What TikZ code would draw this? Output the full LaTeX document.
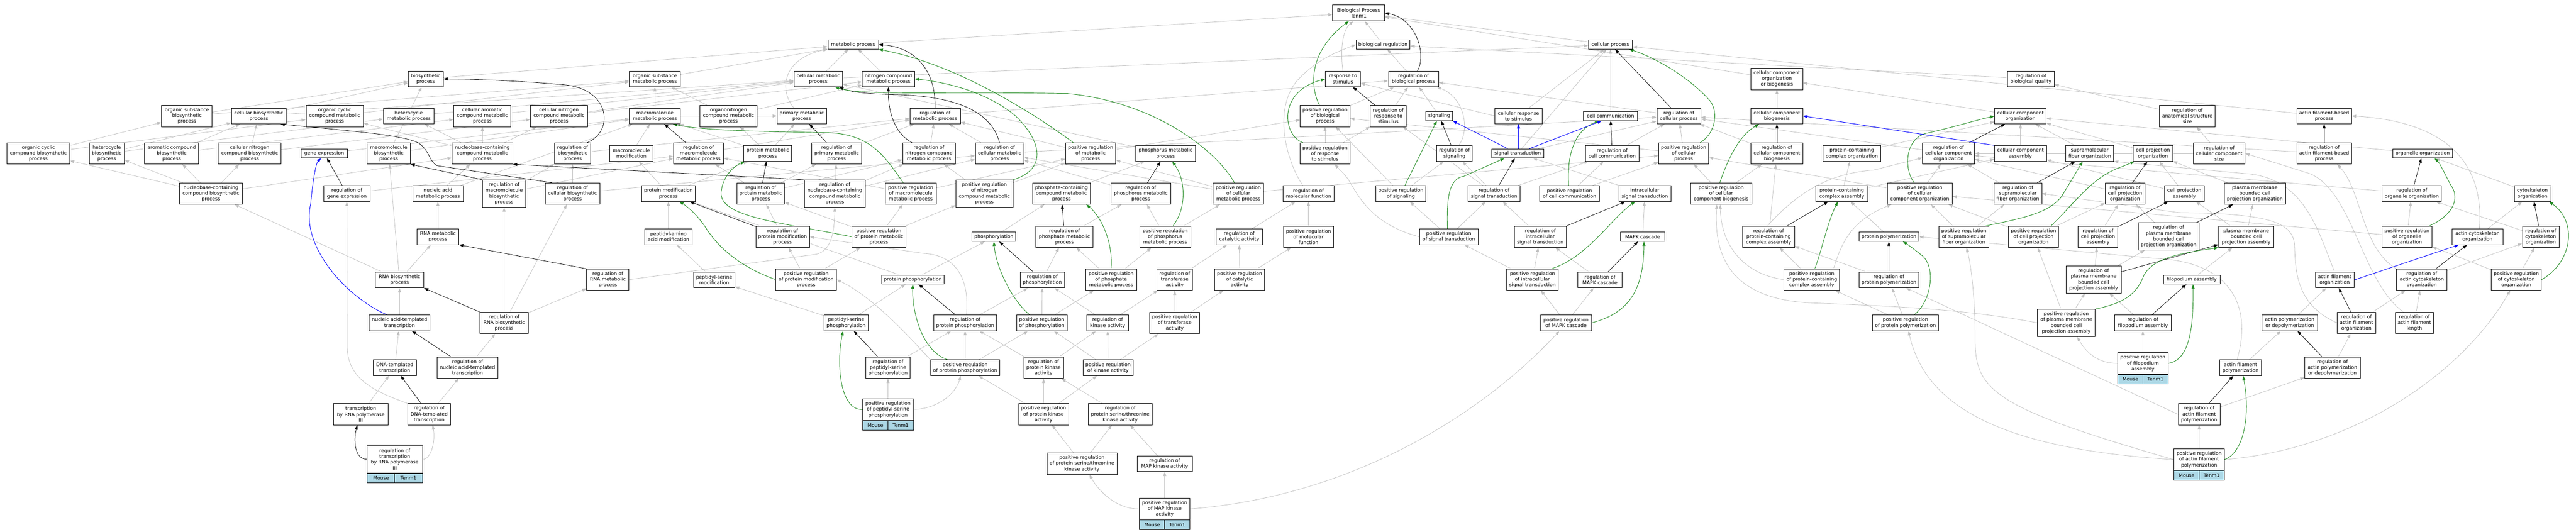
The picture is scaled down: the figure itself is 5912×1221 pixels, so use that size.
\documentclass[tikz,border=0pt]{standalone}
\usepackage{fontspec}
\newfontfamily\dejavu{DejaVu Sans}
\usetikzlibrary{arrows.meta,calc,backgrounds}
\definecolor{isagray}{RGB}{192,192,192}
\definecolor{pgreen}{RGB}{34,139,34}
\definecolor{pblue}{RGB}{0,0,255}
\definecolor{annot}{RGB}{173,216,230}
\newcommand\gf{\dejavu\fontsize{11.1pt}{13.2pt}\selectfont}
\tikzset{
 box/.style={draw=black, line width=0.9pt, fill=white, align=center, inner xsep=2pt, inner ysep=0pt, font=\gf},
 h1/.style={minimum height=21pt}, h2/.style={minimum height=36pt},
 h3/.style={minimum height=49pt}, h4/.style={minimum height=62.5pt},
 cell/.style={draw=black, line width=0.9pt, fill=annot, minimum height=22pt, inner sep=0pt, font=\gf},
 edge/.style={line width=0.9pt, -{Triangle[length=10pt,width=7pt]}},
 isa/.style={edge, draw=isagray},
 rg/.style={edge, draw=black},
 pr/.style={edge, draw=pgreen, line width=1.1pt},
 po/.style={edge, draw=pblue, line width=1.1pt},
}
\newcommand\N[6]{\node[box,#5,minimum width=#4pt] (#1) at (#2,#3) {#6};}
\newcommand\annot[1]{%
  \path let \p1=(#1.south west), \p2=(#1.south east), \n1={(\x2-\x1)/2} in
    node[cell, anchor=north west, minimum width=\n1] (#1m) at (\p1) {Mouse}
    node[cell, anchor=north east, minimum width=\n1] (#1g) at (\p2) {Tenm1};}
\newcommand\isa[2]{\draw[isa] (#1) -- (#2);}
\newcommand\rg[2]{\draw[rg] (#1) -- (#2);}
\newcommand\pr[2]{\draw[pr] (#1) -- (#2);}
\newcommand\po[2]{\draw[po] (#1) -- (#2);}
\begin{document}
\begin{tikzpicture}[x=1pt,y=-0.781pt]
\useasboundingbox (0pt,0pt) rectangle (5912pt,-1221pt);
% row 0-2
\N{BP}{3118}{38}{119}{h2}{Biological Process\\Tenm1}
\N{metab}{1958}{131}{116}{h1}{metabolic process}
\N{bioreg}{3174}{131}{124}{h1}{biological regulation}
\N{cellproc}{3696}{131}{101}{h1}{cellular process}
\N{biosyn}{977}{232}{80}{h2}{biosynthetic\\process}
\N{orgsubmet}{1503}{232}{117}{h2}{organic substance\\metabolic process}
\N{cellmet}{1878}{232}{111}{h2}{cellular metabolic\\process}
\N{nitmet}{2039}{232}{120}{h2}{nitrogen compound\\metabolic process}
\N{resp}{3082}{232}{80}{h2}{response to\\stimulus}
\N{regbp}{3244}{232}{115}{h2}{regulation of\\biological process}
\N{ccob}{4078}{232}{119}{h3}{cellular component\\organization\\or biogenesis}
\N{regqual}{4661}{232}{107}{h2}{regulation of\\biological quality}
% row 3
\N{orgsubbio}{429}{341}{116}{h3}{organic substance\\biosynthetic\\process}
\N{cellbio}{594}{341}{126}{h2}{cellular biosynthetic\\process}
\N{occmet}{768}{341}{131}{h3}{organic cyclic\\compound metabolic\\process}
\N{hetmet}{938}{341}{116}{h2}{heterocycle\\metabolic process}
\N{caromet}{1107}{341}{131}{h3}{cellular aromatic\\compound metabolic\\process}
\N{cnitmet}{1283}{341}{131}{h3}{cellular nitrogen\\compound metabolic\\process}
\N{macmet}{1503}{341}{117}{h2}{macromolecule\\metabolic process}
\N{orgnmet}{1672}{341}{131}{h3}{organonitrogen\\compound metabolic\\process}
\N{primet}{1840}{341}{113}{h2}{primary metabolic\\process}
\N{regmet}{2146}{341}{116}{h2}{regulation of\\metabolic process}
\N{posbp}{3041}{341}{114}{h3}{positive regulation\\of biological\\process}
\N{regresp}{3186}{341}{82}{h3}{regulation of\\response to\\stimulus}
\N{signaling}{3303}{341}{61}{h1}{signaling}
\N{cellresp}{3485}{341}{108}{h2}{cellular response\\to stimulus}
\N{cellcomm}{3696}{341}{123}{h1}{cell communication}
\N{regcp}{3853}{341}{101}{h2}{regulation of\\cellular process}
\N{ccbio}{4078}{341}{119}{h2}{cellular component\\biogenesis}
\N{cco}{4637}{341}{118}{h2}{cellular component\\organization}
\N{regsize}{5020}{341}{128}{h3}{regulation of\\anatomical structure\\size}
\N{afbp}{5334}{341}{126}{h2}{actin filament-based\\process}
% row 4
\N{occbio}{88}{451}{144}{h3}{organic cyclic\\compound biosynthetic\\process}
\N{hetbio}{245}{451}{81}{h3}{heterocycle\\biosynthetic\\process}
\N{arobio}{394}{451}{124}{h3}{aromatic compound\\biosynthetic\\process}
\N{cnitbio}{573}{451}{144}{h3}{cellular nitrogen\\compound biosynthetic\\process}
\N{geneexp}{744}{451}{106}{h1}{gene expression}
\N{macbio}{892}{451}{99}{h3}{macromolecule\\biosynthetic\\process}
\N{nucmet}{1107}{451}{139}{h3}{nucleobase-containing\\compound metabolic\\process}
\N{regbio}{1314}{451}{82}{h3}{regulation of\\biosynthetic\\process}
\N{macmod}{1449}{451}{100}{h2}{macromolecule\\modification}
\N{regmacmet}{1603}{451}{115}{h3}{regulation of\\macromolecule\\metabolic process}
\N{protmet}{1762}{451}{110}{h2}{protein metabolic\\process}
\N{regprimet}{1920}{451}{114}{h3}{regulation of\\primary metabolic\\process}
\N{regnitmet}{2132}{451}{121}{h3}{regulation of\\nitrogen compound\\metabolic process}
\N{regcellmet}{2294}{451}{111}{h3}{regulation of\\cellular metabolic\\process}
\N{posmet}{2503}{451}{115}{h3}{positive regulation\\of metabolic\\process}
\N{phosmet}{2675}{451}{137}{h2}{phosphorus metabolic\\process}
\N{posresp}{3041}{451}{114}{h3}{positive regulation\\of response\\to stimulus}
\N{regsig}{3338}{451}{82}{h2}{regulation of\\signaling}
\N{sigtrans}{3483}{451}{120}{h1}{signal transduction}
\N{regcomm}{3700}{451}{123}{h2}{regulation of\\cell communication}
\N{poscp}{3864}{451}{115}{h3}{positive regulation\\of cellular\\process}
\N{regccbio}{4078}{451}{119}{h3}{regulation of\\cellular component\\biogenesis}
\N{pcco}{4250}{451}{133}{h2}{protein-containing\\complex organization}
\N{regcco}{4472}{451}{119}{h3}{regulation of\\cellular component\\organization}
\N{ccasm}{4637}{451}{119}{h2}{cellular component\\assembly}
\N{sfo}{4796}{451}{110}{h2}{supramolecular\\fiber organization}
\N{cpo}{4941}{451}{91}{h2}{cell projection\\organization}
\N{regccsize}{5093}{451}{119}{h3}{regulation of\\cellular component\\size}
\N{regafbp}{5334}{451}{126}{h3}{regulation of\\actin filament-based\\process}
\N{orgorg}{5560}{451}{137}{h1}{organelle organization}
% row 5
\N{nucbio}{484}{569}{144}{h3}{nucleobase-containing\\compound biosynthetic\\process}
\N{reggene}{796}{569}{106}{h2}{regulation of\\gene expression}
\N{nucacmet}{1005}{569}{116}{h2}{nucleic acid\\metabolic process}
\N{regmacbio}{1157}{569}{99}{h4}{regulation of\\macromolecule\\biosynthetic\\process}
\N{regcellbio}{1314}{569}{126}{h3}{regulation of\\cellular biosynthetic\\process}
\N{protmod}{1534}{569}{123}{h2}{protein modification\\process}
\N{regprotmet}{1746}{569}{109}{h3}{regulation of\\protein metabolic\\process}
\N{regnucmet}{1916}{569}{139}{h4}{regulation of\\nucleobase-containing\\compound metabolic\\process}
\N{posmacmet}{2090}{569}{117}{h3}{positive regulation\\of macromolecule\\metabolic process}
\N{posnitmet}{2259}{569}{131}{h4}{positive regulation\\of nitrogen\\compound metabolic\\process}
\N{phosphmet}{2436}{569}{133}{h3}{phosphate-containing\\compound metabolic\\process}
\N{regphosmet}{2618}{569}{137}{h3}{regulation of\\phosphorus metabolic\\process}
\N{poscellmet}{2842}{569}{116}{h3}{positive regulation\\of cellular\\metabolic process}
\N{regmf}{3003}{569}{117}{h2}{regulation of\\molecular function}
\N{possig}{3215}{569}{115}{h2}{positive regulation\\of signaling}
\N{regsigtrans}{3429}{569}{119}{h2}{regulation of\\signal transduction}
\N{poscomm}{3602}{569}{137}{h2}{positive regulation\\of cell communication}
\N{intra}{3775}{569}{119}{h2}{intracellular\\signal transduction}
\N{posccbio}{3950}{569}{140}{h3}{positive regulation\\of cellular\\component biogenesis}
\N{pcca}{4227}{569}{119}{h2}{protein-containing\\complex assembly}
\N{posccorg}{4406}{569}{148}{h3}{positive regulation\\of cellular\\component organization}
\N{regsfo}{4631}{569}{110}{h3}{regulation of\\supramolecular\\fiber organization}
\N{regcpo}{4877}{569}{91}{h3}{regulation of\\cell projection\\organization}
\N{cpa}{5013}{569}{91}{h2}{cell projection\\assembly}
\N{pmcpo}{5175}{569}{140}{h3}{plasma membrane\\bounded cell\\projection organization}
\N{regorg}{5535}{569}{136}{h2}{regulation of\\organelle organization}
\N{cytorg}{5812}{569}{84}{h2}{cytoskeleton\\organization}
% row 6
\N{rnamet}{1005}{696}{96}{h2}{RNA metabolic\\process}
\N{pepmod}{1534}{696}{108}{h2}{peptidyl-amino\\acid modification}
\N{regprotmod}{1796}{696}{123}{h3}{regulation of\\protein modification\\process}
\N{posprotmet}{2017}{696}{125}{h3}{positive regulation\\of protein metabolic\\process}
\N{phos}{2281}{696}{101}{h1}{phosphorylation}
\N{regphosphmet}{2443}{696}{131}{h3}{regulation of\\phosphate metabolic\\process}
\N{posphosmet}{2674}{696}{117}{h3}{positive regulation\\of phosphorus\\metabolic process}
\N{regcat}{2844}{696}{106}{h2}{regulation of\\catalytic activity}
\N{posmf}{3003}{696}{115}{h3}{positive regulation\\of molecular\\function}
\N{possigtrans}{3325}{696}{135}{h2}{positive regulation\\of signal transduction}
\N{regintra}{3535}{696}{119}{h3}{regulation of\\intracellular\\signal transduction}
\N{mapk}{3770}{696}{102}{h1}{MAPK cascade}
\N{regpcca}{4059}{696}{119}{h3}{regulation of\\protein-containing\\complex assembly}
\N{protpol}{4335}{696}{138}{h1}{protein polymerization}
\N{possfo}{4507}{696}{115}{h3}{positive regulation\\of supramolecular\\fiber organization}
\N{poscpo}{4667}{696}{115}{h3}{positive regulation\\of cell projection\\organization}
\N{regcpa}{4815}{696}{91}{h3}{regulation of\\cell projection\\assembly}
\N{regpmcpo}{4977}{695}{140}{h4}{regulation of\\plasma membrane\\bounded cell\\projection organization}
\N{pmcpa}{5155}{696}{127}{h3}{plasma membrane\\bounded cell\\projection assembly}
\N{posorg}{5524}{696}{115}{h3}{positive regulation\\of organelle\\organization}
\N{acto}{5686}{696}{116}{h2}{actin cytoskeleton\\organization}
\N{regcyt}{5831}{696}{84}{h3}{regulation of\\cytoskeleton\\organization}
% row 7
\N{rnabio}{917}{823}{111}{h2}{RNA biosynthetic\\process}
\N{regrnamet}{1395}{822}{97}{h3}{regulation of\\RNA metabolic\\process}
\N{pepser}{1639}{823}{95}{h2}{peptidyl-serine\\modification}
\N{posprotmod}{1850}{822}{139}{h3}{positive regulation\\of protein modification\\process}
\N{protphos}{2095}{822}{144}{h1}{protein phosphorylation}
\N{regphos}{2392}{823}{102}{h2}{regulation of\\phosphorylation}
\N{posphosphmet}{2550}{822}{117}{h3}{positive regulation\\of phosphate\\metabolic process}
\N{regtrans}{2696}{822}{82}{h3}{regulation of\\transferase\\activity}
\N{poscat}{2845}{822}{115}{h3}{positive regulation\\of catalytic\\activity}
\N{posintra}{3517}{822}{119}{h3}{positive regulation\\of intracellular\\signal transduction}
\N{regmapk}{3672}{823}{102}{h2}{regulation of\\MAPK cascade}
\N{pospcca}{4158}{822}{128}{h3}{positive regulation\\of protein-containing\\complex assembly}
\N{regprotpol}{4335}{823}{138}{h2}{regulation of\\protein polymerization}
\N{regpmcpa}{4805}{822}{127}{h4}{regulation of\\plasma membrane\\bounded cell\\projection assembly}
\N{filo}{5030}{822}{130}{h1}{filopodium assembly}
\N{afo}{5358}{823}{89}{h2}{actin filament\\organization}
\N{regacto}{5558}{822}{116}{h3}{regulation of\\actin cytoskeleton\\organization}
\N{poscyt}{5775}{822}{115}{h3}{positive regulation\\of cytoskeleton\\organization}
% row 8
\N{nat}{917}{949}{140}{h2}{nucleic acid-templated\\transcription}
\N{regrnabio}{1157}{949}{111}{h3}{regulation of\\RNA biosynthetic\\process}
\N{pepserphos}{1942}{949}{101}{h2}{peptidyl-serine\\phosphorylation}
\N{regprotphos}{2215}{949}{144}{h2}{regulation of\\protein phosphorylation}
\N{posphos}{2391}{949}{116}{h2}{positive regulation\\of phosphorylation}
\N{regkin}{2542}{949}{95}{h2}{regulation of\\kinase activity}
\N{postrans}{2696}{949}{115}{h3}{positive regulation\\of transferase\\activity}
\N{posmapk}{3594}{949}{117}{h2}{positive regulation\\of MAPK cascade}
\N{posprotpol}{4373}{949}{152}{h2}{positive regulation\\of protein polymerization}
\N{pospmcpa}{4742}{949}{133}{h4}{positive regulation\\of plasma membrane\\bounded cell\\projection assembly}
\N{regfilo}{4918}{949}{130}{h2}{regulation of\\filopodium assembly}
\N{apd}{5255}{949}{127}{h2}{actin polymerization\\or depolymerization}
\N{regafo}{5408}{949}{89}{h3}{regulation of\\actin filament\\organization}
\N{regafl}{5541}{949}{88}{h3}{regulation of\\actin filament\\length}
% row 9
\N{dnat}{906}{1081}{99}{h2}{DNA-templated\\transcription}
\N{regnat}{1073}{1081}{140}{h3}{regulation of\\nucleic acid-templated\\transcription}
\N{regpepserphos}{2038}{1081}{102}{h3}{regulation of\\peptidyl-serine\\phosphorylation}
\N{posprotphos}{2215}{1081}{159}{h2}{positive regulation\\of protein phosphorylation}
\N{regpk}{2395}{1081}{91}{h3}{regulation of\\protein kinase\\activity}
\N{poskin}{2543}{1081}{115}{h2}{positive regulation\\of kinase activity}
\N{posfilo}{4918}{1068}{116}{h3}{positive regulation\\of filopodium\\assembly}
\N{afp}{5142}{1081}{95}{h2}{actin filament\\polymerization}
\N{regapd}{5353}{1081}{127}{h3}{regulation of\\actin polymerization\\or depolymerization}
% row 10
\N{trpol3}{828}{1218}{126}{h3}{transcription\\by RNA polymerase\\III}
\N{regdnat}{985}{1218}{98}{h3}{regulation of\\DNA-templated\\transcription}
\N{pospepserphos}{2038}{1204}{117}{h3}{positive regulation\\of peptidyl-serine\\phosphorylation}
\N{pospk}{2395}{1218}{115}{h3}{positive regulation\\of protein kinase\\activity}
\N{regpstk}{2571}{1218}{146}{h3}{regulation of\\protein serine/threonine\\kinase activity}
\N{regafp}{5047}{1218}{96}{h3}{regulation of\\actin filament\\polymerization}
% row 11-12
\N{regtrpol3}{906}{1350}{127}{h4}{regulation of\\transcription\\by RNA polymerase\\III}
\N{pospstk}{2483}{1363}{161}{h3}{positive regulation\\of protein serine/threonine\\kinase activity}
\N{regmapkact}{2673}{1363}{127}{h2}{regulation of\\MAP kinase activity}
\N{posafp}{5047}{1351}{116}{h3}{positive regulation\\of actin filament\\polymerization}
\N{posmapkact}{2673}{1496}{116}{h3}{positive regulation\\of MAP kinase\\activity}
\annot{regtrpol3}
\annot{pospepserphos}
\annot{posmapkact}
\annot{posfilo}
\annot{posafp}

\begin{pgfonlayer}{background}
\fill[white] (0pt,0pt) rectangle (5912pt,-1221pt);
% ---- is_a (gray) straight
\isa{metab}{BP}\isa{bioreg}{BP}\isa{cellproc}{BP}\isa{ccob}{BP}
\isa{biosyn}{metab}\isa{orgsubmet}{metab}\isa{cellmet}{metab}\isa{cellmet}{cellproc}\isa{nitmet}{metab}
\isa{regbp}{bioreg}\isa{regqual}{bioreg}
\isa{orgsubbio}{biosyn}\isa{orgsubbio}{orgsubmet}\isa{cellbio}{biosyn}\isa{cellbio}{cellmet}
\isa{occbio}{orgsubbio}\isa{occbio}{occmet}\isa{hetbio}{hetmet}\isa{hetbio}{cellbio}
\isa{arobio}{caromet}\isa{arobio}{cellbio}\isa{cnitbio}{cellbio}\isa{cnitbio}{cnitmet}
\isa{nucbio}{occbio}\isa{nucbio}{hetbio}\isa{nucbio}{arobio}\isa{nucbio}{cnitbio}\isa{nucbio}{nucmet}
\isa{macbio}{biosyn}\isa{macbio}{macmet}\isa{geneexp}{macmet}
\isa{rnabio}{macbio}\isa{rnabio}{nucbio}\isa{rnabio}{rnamet}
\isa{nat}{rnabio}\isa{dnat}{nat}\isa{trpol3}{dnat}
\isa{occmet}{orgsubmet}\isa{hetmet}{cellmet}\isa{caromet}{cellmet}\isa{cnitmet}{cellmet}\isa{cnitmet}{nitmet}
\isa{macmet}{orgsubmet}\isa{macmet}{primet}\isa{orgnmet}{orgsubmet}\isa{orgnmet}{nitmet}
\isa{nucmet}{occmet}\isa{nucmet}{hetmet}\isa{nucmet}{caromet}\isa{nucmet}{cnitmet}
\isa{nucacmet}{nucmet}\isa{nucacmet}{macmet}\isa{rnamet}{nucacmet}
\isa{protmet}{macmet}\isa{protmet}{orgnmet}\isa{protmet}{primet}
\isa{macmod}{macmet}\isa{protmod}{macmod}\isa{protmod}{protmet}
\isa{pepmod}{protmod}\isa{pepser}{pepmod}\isa{pepserphos}{pepser}\isa{pepserphos}{protphos}
\isa{phosmet}{cellmet}\isa{phosphmet}{phosmet}\isa{phos}{phosphmet}\isa{protphos}{phos}\isa{protphos}{protmod}
\isa{regmet}{regbp}\isa{regcp}{regbp}
\isa{regcellmet}{regmet}\isa{regcellmet}{regcp}\isa{regnitmet}{regmet}\isa{regmacmet}{regmet}
\isa{regprimet}{regmet}\isa{regbio}{regmet}
\isa{regcellbio}{regbio}\isa{regcellbio}{regcellmet}\isa{regmacbio}{regbio}\isa{regmacbio}{regmacmet}
\isa{reggene}{regmacmet}
\isa{regnucmet}{regprimet}\isa{regnucmet}{regnitmet}\isa{regnucmet}{regcellmet}
\isa{regrnabio}{regrnamet}\isa{regrnabio}{regmacbio}\isa{regrnabio}{regcellbio}
\isa{regnat}{regrnabio}\isa{regdnat}{regnat}
\isa{regprotmet}{regmacmet}\isa{regprotmet}{regprimet}\isa{regprotmet}{regnitmet}
\isa{regprotmod}{regprotmet}
\isa{posprotmet}{regprotmet}\isa{posprotmet}{posmacmet}\isa{posprotmet}{posnitmet}
\isa{posprotmod}{regprotmod}\isa{posprotmod}{posprotmet}
\isa{posmacmet}{regmacmet}\isa{posmacmet}{posmet}\isa{posnitmet}{regnitmet}\isa{posnitmet}{posmet}
\isa{poscellmet}{regcellmet}\isa{poscellmet}{posmet}\isa{poscellmet}{poscp}
\isa{posmet}{regmet}\isa{posmet}{posbp}
\isa{regphosmet}{regcellmet}\isa{regphosphmet}{regphosmet}\isa{regphos}{regphosphmet}
\isa{regpepserphos}{regprotphos}\isa{regprotphos}{regphos}
\isa{posphosmet}{regphosmet}\isa{posphosmet}{poscellmet}
\isa{posphosphmet}{regphosphmet}\isa{posphosphmet}{posphosmet}
\isa{posphos}{regphos}\isa{posphos}{posphosphmet}
\isa{posprotphos}{regprotphos}\isa{posprotphos}{posphos}\isa{pospepserphos}{regpepserphos}
\isa{regcat}{regmf}\isa{poscat}{regcat}\isa{poscat}{posmf}\isa{regtrans}{regcat}
\isa{postrans}{regtrans}\isa{postrans}{poscat}
\isa{regkin}{regtrans}\isa{regkin}{regphos}\isa{poskin}{regkin}\isa{poskin}{postrans}\isa{poskin}{posphos}
\isa{regpk}{regkin}\isa{regpk}{regprotphos}\isa{pospk}{regpk}\isa{pospk}{poskin}\isa{pospk}{posprotphos}
\isa{regpstk}{regpk}\isa{pospstk}{regpstk}\isa{pospstk}{pospk}
\isa{regmapkact}{regpstk}\isa{posmapkact}{regmapkact}
\isa{posmf}{regmf}\isa{posbp}{regbp}\isa{regresp}{regbp}\isa{posresp}{regresp}\isa{posresp}{posbp}
\isa{signaling}{regbp}\isa{cellresp.west}{resp}\isa{cellresp}{cellproc}\isa{cellcomm}{cellproc}
\isa{sigtrans}{regcp}\isa{sigtrans}{cellproc}\isa{regcomm}{regcp}
\isa{regsigtrans}{regsig}\isa{regsigtrans}{regcomm}\isa{regsigtrans}{regresp}
\isa{possig}{regsig}\isa{possig}{posbp}\isa{poscomm}{regcomm}\isa{poscomm}{poscp}
\isa{possigtrans}{regsigtrans}\isa{possigtrans}{possig}
\isa{intra}{sigtrans}\isa{regintra}{regsigtrans}\isa{posintra}{regintra}\isa{posintra}{possigtrans}
\isa{mapk}{intra}\isa{regmapk}{regintra}\isa{posmapk}{posintra}\isa{posmapk}{regmapk}
\isa{poscp}{regcp}\isa{poscp}{posbp}\isa{regccbio}{regcp}\isa{posccbio}{regccbio}\isa{posccbio}{poscp}
\isa{ccbio}{ccob}\isa{cco}{ccob}\isa{pcco}{cco}\isa{pcca}{pcco}\isa{pcca}{ccasm}
\isa{regpcca}{regccbio}\isa{pospcca}{regpcca}\isa{protpol}{pcca}\isa{regprotpol}{regpcca}
\isa{posprotpol}{regprotpol}\isa{posprotpol}{pospcca}
\isa{regcco}{regcp}\isa{posccorg}{regcco}\isa{posccorg}{poscp}
\isa{ccasm}{cco}\isa{sfo}{cco}\isa{regsfo}{regcco}\isa{possfo}{regsfo}\isa{possfo}{posccorg}
\isa{cpo}{cco}\isa{regcpo}{regcco}\isa{poscpo}{regcpo}\isa{poscpo}{posccorg}
\isa{cpa}{cpo}\isa{cpa}{ccasm}\isa{regcpa}{regcpo}\isa{pmcpo}{cpo}\isa{pmcpa}{pmcpo}\isa{pmcpa}{cpa}
\isa{regpmcpo}{regcpo}\isa{regpmcpa}{regcpa}\isa{regpmcpa}{regpmcpo}
\isa{pospmcpa}{regpmcpa}\isa{pospmcpa}{poscpo}
\isa{filo}{pmcpa}\isa{regfilo}{regpmcpa}\isa{posfilo}{regfilo}
\isa{regsize}{regqual}\isa{regccsize}{regsize}\isa{regccsize}{regcco}
\isa{afbp}{cellproc}\isa{regafbp}{regcp}
\isa{orgorg}{cco}\isa{regorg}{regcco}\isa{posorg}{regorg}\isa{posorg}{posccorg}
\isa{cytorg}{orgorg}\isa{regcyt}{regorg}\isa{poscyt}{regcyt}\isa{poscyt}{posorg}
\isa{acto}{cytorg}\isa{regacto}{regcyt}\isa{regafo}{regacto}\isa{apd}{afo}\isa{regapd}{regafo}
\isa{regafl}{regacto}\isa{afp}{apd}\isa{regafp}{regapd}\isa{regafp.west}{regprotpol}\isa{posafp}{regafp}
% ---- is_a (gray) curved
\draw[isa] (resp.north) .. controls (3076,150) and (3080,90) .. ([xshift=-12pt]BP.south);
\draw[isa] ([xshift=-18pt]primet.north) .. controls (1785,260) and (1800,170) .. (metab.south west);
\draw[isa] ([xshift=-13pt]regmf.north) .. controls (2955,480) and (2920,330) .. (2975,240) .. controls (3020,175) and (3070,152) .. (bioreg.west);
\draw[isa] ([xshift=10pt]regsig.north) .. controls (3375,380) and (3360,285) .. ([xshift=-5pt]regbp.south east);
\draw[isa] (possigtrans.west) .. controls (3150,660) and (3120,580) .. (3100,540) .. controls (3090,515) and (3075,500) .. ([xshift=22pt]posresp.south);
\draw[isa] (regdnat.north west) .. controls (870,1155) and (797,1120) .. (797,1020) -- (reggene.south);
\draw[isa] (regtrpol3.east) .. controls (988,1352) and (1000,1300) .. ([xshift=8pt]regdnat.south);
\draw[isa] (regrnamet.east) -- (1870,748) .. controls (1905,742) and (1915,690) .. (regnucmet.south);
\draw[isa] ([xshift=3pt]regprotphos.north) .. controls (2225,830) and (2200,750) .. (2120,745) -- (regprotmod.east);
\draw[isa] (posprotphos.north west) .. controls (2080,980) and (2000,870) .. (posprotmod.east);
\draw[isa] (posmapkact.west) .. controls (2560,1497) and (2520,1440) .. ([xshift=17pt]pospstk.south);
\draw[isa] (posmapkact.east) .. controls (3100,1460) and (3400,1220) .. ([xshift=-15pt]posmapk.south);
\draw[isa] (pospepserphos.east) .. controls (2160,1200) and (2195,1150) .. ([xshift=-10pt]posprotphos.south);
\draw[isa] (posfilo.west) .. controls (4810,1068) and (4785,1030) .. ([xshift=25pt]pospmcpa.south);
\draw[isa] (pospmcpa.west) .. controls (4500,905) and (4300,898) .. (4150,890) .. controls (3950,875) and (3935,720) .. ([xshift=-10pt]posccbio.south);
\draw[isa] (pospcca.west) .. controls (4000,805) and (3950,720) .. ([xshift=-2pt]posccbio.south);
\draw[isa] ([xshift=50pt]pospcca.north) .. controls (4225,720) and (4245,650) .. ([xshift=-65pt]posccorg.south);
\draw[isa] ([xshift=-3pt]regpcca.north) .. controls (4130,560) and (4200,510) .. (4300,500) -- ([yshift=-10pt]regcco.west);
\draw[isa] ([xshift=4pt]acto.north) .. controls (5700,520) and (5650,360) .. (afbp.east);
\draw[isa] (regacto.north west) .. controls (5420,730) and (5420,560) .. ([xshift=30pt]regafbp.south);
\draw[isa] (afo.north) .. controls (5320,680) and (5290,520) .. (5150,510) -- (sfo.south east);
\draw[isa] (regafo.west) .. controls (5270,895) and (5268,800) .. (5266,720) .. controls (5262,650) and (5200,628) .. (5000,625) -- (regsfo.east);
\draw[isa] ([xshift=-25pt]regafl.north) .. controls (5420,830) and (5400,560) .. (5300,510) -- (regccsize.east);
\draw[isa] ([xshift=-8pt]afp.north) .. controls (5170,900) and (5120,770) .. (4950,760) -- (protpol.east);
\draw[isa] (posafp.west) .. controls (4600,1320) and (4420,1200) .. ([xshift=7pt]posprotpol.south);
\draw[isa] (posafp.west) .. controls (4580,1200) and (4533,1150) .. (4533,1000) .. controls (4533,850) and (4520,760) .. ([xshift=6pt]possfo.south);
\draw[isa] (posafp.east) .. controls (5400,1320) and (5650,1100) .. ([xshift=-14pt]poscyt.south);
% ---- regulates (black)
\draw[rg] ([xshift=9pt]regbp.north) .. controls (3275,160) and (3250,55) .. (BP.east);
\draw[rg] (regmet.north) .. controls (2148,220) and (2110,140) .. (metab.east);
\draw[rg] ([xshift=34pt]regbio.north) .. controls (1410,385) and (1400,265) .. (1300,250) .. controls (1200,238) and (1100,233) .. (biosyn.east);
\draw[rg] ([xshift=-47pt]regcellbio.north) -- (1003,487) .. controls (985,475) and (985,440) .. (960,420) .. controls (920,395) and (800,385) .. ([xshift=-14pt]cellbio.south east);
\rg{regmacbio.north west}{macbio.south east}\rg{reggene}{geneexp}\rg{regrnabio.north west}{rnabio.south east}
\rg{regnat}{nat}\rg{regdnat}{dnat}
\draw[rg] (regtrpol3.west) .. controls (812,1350) and (812,1290) .. ([xshift=-8pt]trpol3.south);
\rg{regrnamet.north west}{rnamet.south east}\rg{regmacmet}{macmet}\rg{regprimet}{primet}
\draw[rg] ([xshift=-39pt]regnitmet.north) .. controls (2050,390) and (2038,320) .. (nitmet.south);
\draw[rg] (regcellmet.north) .. controls (2275,330) and (2200,282) .. (2050,278) .. controls (1990,276) and (1950,270) .. ([xshift=-8pt]cellmet.south east);
\rg{regprotmet}{protmet}\rg{regprotmod}{protmod}\rg{regnucmet.north west}{nucmet.south east}
\rg{regphosmet}{phosmet}\rg{regphosphmet}{phosphmet}\rg{regphos}{phos}\rg{regprotphos}{protphos}
\rg{regpepserphos}{pepserphos}\rg{regresp}{resp}\rg{regsig}{signaling}\rg{regcomm}{cellcomm}
\rg{regcp}{cellproc}\rg{regsigtrans}{sigtrans}\rg{regintra}{intra}\rg{regmapk}{mapk}
\rg{regccbio}{ccbio}\rg{regpcca}{pcca}\rg{regprotpol}{protpol}\rg{regcco}{cco}\rg{regsfo}{sfo}
\rg{regcpo}{cpo}\rg{regcpa}{cpa}\rg{regpmcpo}{pmcpo}\rg{regpmcpa}{pmcpa}\rg{regfilo}{filo}
\rg{regafbp}{afbp}\rg{regorg}{orgorg}\rg{regcyt}{cytorg}\rg{regacto}{acto}\rg{regafo}{afo}
\rg{regapd}{apd}\rg{regafp}{afp}
% ---- positively regulates (green)
\draw[pr] ([xshift=-13pt]posbp.north) .. controls (3005,250) and (3005,150) .. ([xshift=-22pt]BP.south);
\draw[pr] ([xshift=-51pt]posresp.north) .. controls (2945,400) and (2930,270) .. (resp.west);
\draw[pr] ([xshift=-40pt]posmet.north) .. controls (2380,340) and (2200,190) .. (metab.south east);
\draw[pr] ([xshift=-17pt]posmacmet.north) .. controls (2030,460) and (2000,395) .. (1900,390) .. controls (1750,386) and (1620,385) .. ([xshift=-18pt]macmet.south east);
\draw[pr] (posnitmet.north east) .. controls (2400,500) and (2395,420) .. (2330,340) .. controls (2260,265) and (2160,240) .. (nitmet.east);
\draw[pr] ([xshift=-9pt]poscellmet.north) .. controls (2790,440) and (2650,300) .. (2450,275) .. controls (2150,268) and (1980,282) .. ([xshift=-18pt]cellmet.south east);
\draw[pr] (posprotmet.west) .. controls (1800,655) and (1650,640) .. (1655,565) .. controls (1660,510) and (1690,485) .. ([xshift=-52pt]protmet.south);
\draw[pr] (posprotmod.west) .. controls (1700,785) and (1650,730) .. (1620,670) .. controls (1600,630) and (1575,605) .. ([xshift=25pt]protmod.south);
\draw[pr] ([xshift=18pt]posphosmet.north) .. controls (2725,610) and (2720,525) .. ([xshift=15pt]phosmet.south);
\draw[pr] (posphosphmet.north) .. controls (2555,720) and (2530,640) .. ([xshift=57pt]phosphmet.south);
\draw[pr] ([xshift=-28pt]posphos.north) .. controls (2320,880) and (2285,780) .. (phos.south);
\draw[pr] ([xshift=-40pt]posprotphos.north) .. controls (2110,1030) and (2093,900) .. (protphos.south);
\draw[pr] (pospepserphos.west) .. controls (1925,1205) and (1920,1060) .. ([xshift=-7pt]pepserphos.south);
\pr{possig}{signaling}
\draw[pr] ([xshift=-2pt]poscomm.north) .. controls (3595,440) and (3620,380) .. ([xshift=-26pt]cellcomm.south);
\draw[pr] ([xshift=-3pt]possigtrans.north) .. controls (3320,580) and (3325,525) .. (3360,518) -- ([xshift=-30pt]sigtrans.south);
\draw[pr] ([xshift=43pt]posintra.north) .. controls (3640,760) and (3700,640) .. ([xshift=-22pt]intra.south);
\draw[pr] (posmapk.east) .. controls (3740,920) and (3772,850) .. ([xshift=3pt]mapk.south);
\draw[pr] ([xshift=38pt]poscp.north) .. controls (3940,390) and (3945,320) .. (3920,290) .. controls (3870,220) and (3790,165) .. ([xshift=-8pt]cellproc.south east);
\draw[pr] ([xshift=-3pt]posccbio.north) .. controls (3965,470) and (3990,400) .. ([xshift=-41pt]ccbio.south);
\draw[pr] ([xshift=7pt]pospcca.north) .. controls (4180,740) and (4195,650) .. ([xshift=-9pt]pcca.south);
\draw[pr] ([xshift=20pt]posprotpol.north) .. controls (4430,890) and (4445,790) .. (4412,752) .. controls (4395,735) and (4380,720) .. ([xshift=32pt]protpol.south);
\draw[pr] ([xshift=-13pt]posccorg.north) .. controls (4370,500) and (4370,410) .. (4420,392) .. controls (4480,375) and (4530,355) .. (cco.west);
\draw[pr] ([xshift=50pt]possfo.north) .. controls (4650,640) and (4700,625) .. (4730,580) .. controls (4752,535) and (4770,495) .. ([xshift=-16pt]sfo.south);
\draw[pr] ([xshift=40pt]poscpo.north) .. controls (4760,600) and (4800,520) .. (4870,490) -- ([xshift=-42pt]cpo.south);
\draw[pr] (pospmcpa.north east) .. controls (4880,890) and (4905,860) .. (4920,810) .. controls (4940,760) and (5000,745) .. (pmcpa.south west);
\draw[pr] (posfilo.east) .. controls (5015,1060) and (5035,1000) .. ([xshift=3pt]filo.south);
\draw[pr] (posafp.east) .. controls (5150,1330) and (5165,1220) .. ([xshift=6pt]afp.south);
\draw[pr] ([xshift=51pt]posorg.north) .. controls (5620,640) and (5650,590) .. (5625,545) .. controls (5610,510) and (5600,480) .. ([xshift=27pt]orgorg.south);
\draw[pr] (poscyt.east) .. controls (5905,770) and (5915,650) .. ([xshift=38pt]cytorg.south);
% ---- part of (blue)
\draw[po] ([xshift=-29pt]nat.north) .. controls (790,870) and (690,720) .. (713,600) .. controls (718,530) and (725,480) .. ([xshift=-7pt]geneexp.south);
\po{[xshift=-23pt]sigtrans.north}{signaling.south east}
\po{[xshift=2pt]sigtrans.north}{cellresp.south}
\po{[xshift=27pt]sigtrans.north}{[xshift=-20pt]cellcomm.south}
\po{ccasm.north west}{ccbio.east}
\po{afo.east}{[xshift=-43pt]acto.south}
\end{pgfonlayer}
\end{tikzpicture}
\end{document}
